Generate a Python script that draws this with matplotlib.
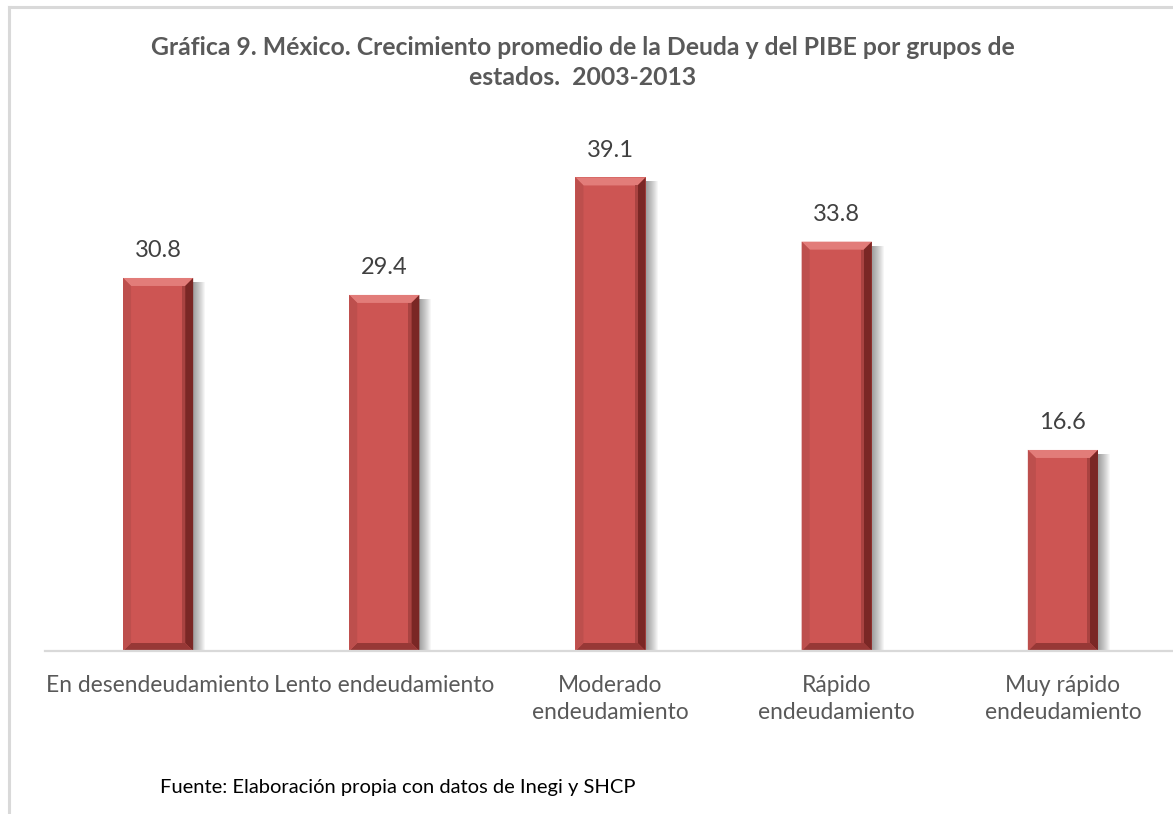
import matplotlib.pyplot as plt
from matplotlib.patches import Polygon, Rectangle
from matplotlib.lines import Line2D

categorias = ['En desendeudamiento', 'Lento endeudamiento', 'Moderado\nendeudamiento',
              'Rápido\nendeudamiento', 'Muy rápido\nendeudamiento']
crecimiento = [30.8, 29.4, 39.1, 33.8, 16.6]

titulo = 'Gráfica 9. México. Crecimiento promedio de la Deuda y del PIBE por grupos de\nestados.  2003-2013'
fuente = 'Fuente: Elaboración propia con datos de Inegi y SHCP'

plt.rcParams['font.family'] = ['Lato', 'DejaVu Sans']

W, H = 1173, 814
fig = plt.figure(figsize=(W / 100, H / 100), dpi=100)
ax = fig.add_axes([45 / W, 163 / H, 1131 / W, 545 / H])

cara = '#cd5553'
barras = ax.bar(range(len(crecimiento)), crecimiento, width=0.31, color=cara,
                edgecolor='none', zorder=3)
ax.set_xlim(-0.5, len(crecimiento) - 0.5)
ax.set_ylim(0, 45)

# bevel and shadow, sized in pixels and converted to data units
px_x = 1 / 226.2
px_y = 45 / 545
bx, by = 8 * px_x, 8 * px_y
for b in barras:
    x0, x1 = b.get_x(), b.get_x() + b.get_width()
    y0, y1 = 0, b.get_height()
    # soft shadow on the right
    for i in range(12):
        ax.add_patch(Rectangle((x1, y0), (i + 1) * px_x, y1 - 4 * px_y,
                               color='black', alpha=0.035, lw=0, zorder=2))
    piezas = [
        ([(x0, y1), (x1, y1), (x1 - bx, y1 - by), (x0 + bx, y1 - by)], '#e27c79'),
        ([(x1, y1), (x1, y0), (x1 - bx, y0 + by), (x1 - bx, y1 - by)], '#7a2725'),
        ([(x0, y0), (x1, y0), (x1 - bx, y0 + by), (x0 + bx, y0 + by)], '#973836'),
        ([(x0, y0), (x0, y1), (x0 + bx, y1 - by), (x0 + bx, y0 + by)], '#bd4f4d'),
    ]
    for pts, c in piezas:
        ax.add_patch(Polygon(pts, closed=True, color=c, lw=0, zorder=4))
    # darker inner strip next to the right bevel
    ax.add_patch(Rectangle((x1 - bx - 3 * px_x, y0 + by), 3 * px_x, y1 - 2 * by,
                           color='#a94341', lw=0, zorder=4))
    ax.text(b.get_x() + b.get_width() / 2, y1 + 27 * px_y, f'{y1:.1f}',
            ha='center', va='center', fontsize=17, color='#404040')

for s in ['top', 'right', 'left']:
    ax.spines[s].set_visible(False)
ax.spines['bottom'].set_color('#d9d9d9')
ax.spines['bottom'].set_linewidth(1.6)
ax.spines['bottom'].set_zorder(5)
ax.set_yticks([])
ax.set_xticks(range(len(categorias)))
ax.set_xticklabels(categorias, fontsize=16.4, color='#595959', linespacing=1.36)
ax.tick_params(axis='x', length=0, pad=17)

fig.text(583 / W, 1 - 62.5 / H, titulo, ha='center', va='center', fontsize=17.8,
         fontweight='bold', color='#595959', linespacing=1.33)
fig.text(160 / W, 1 - 788 / H, fuente, ha='left', va='center', fontsize=14.5, color='black')

# outer frame of the chart area
fig.add_artist(Line2D([9 / W, 1], [1 - 7 / H, 1 - 7 / H], color='#d9d9d9', lw=2.2))
fig.add_artist(Line2D([9 / W, 9 / W], [0, 1 - 7 / H], color='#d9d9d9', lw=2.2))

fig.savefig('out.png', dpi=100)
